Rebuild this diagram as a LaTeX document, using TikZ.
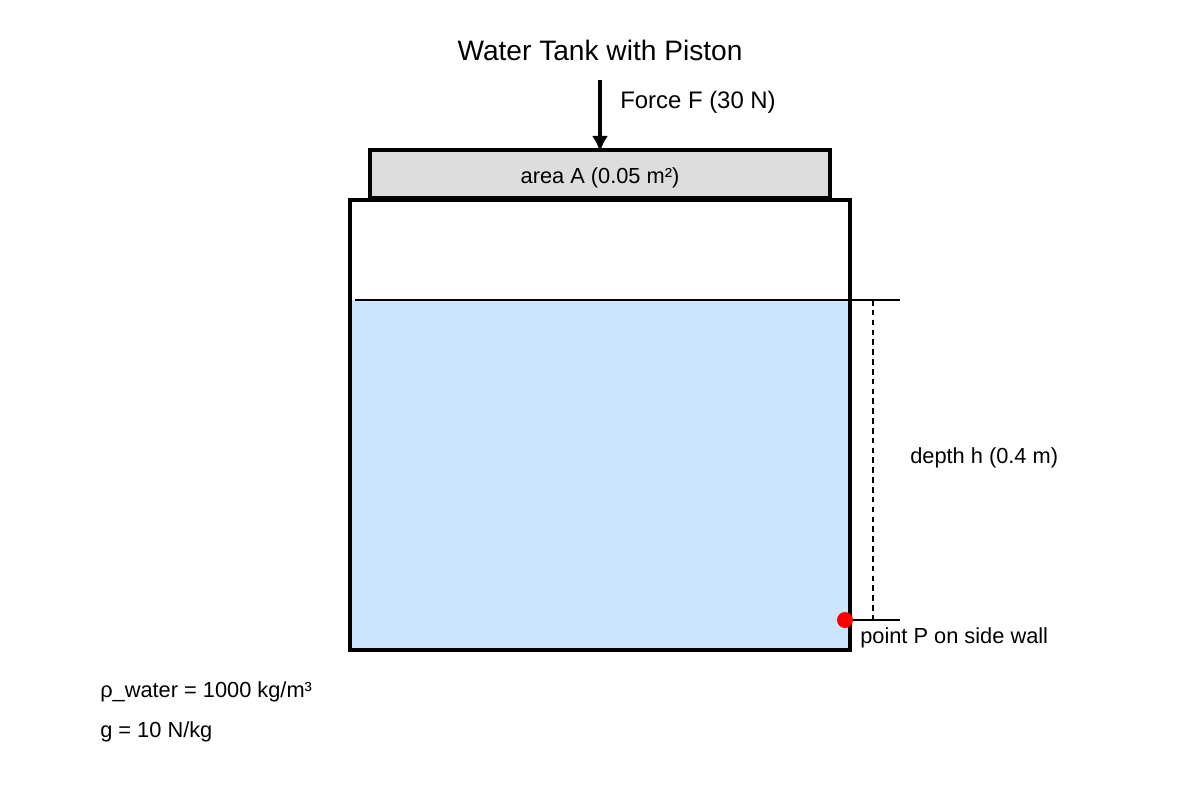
\documentclass[tikz,border=0pt]{standalone}
\usepackage{fontspec}
\setmainfont{Liberation Sans}
\usetikzlibrary{arrows.meta}
\definecolor{pistongray}{HTML}{DDDDDD}
\definecolor{waterblue}{HTML}{CCE5FF}
\tikzset{
  wall/.style={line width=1.1mm},
  label/.style={font=\fontsize{15.5}{18}\selectfont, anchor=west, inner sep=0pt},
}
\begin{document}
\begin{tikzpicture}[x=0.025cm,y=-0.025cm]
  \useasboundingbox (0,0) rectangle (1200,800);
  \node[font=\fontsize{20}{22}\selectfont] (title) at (600,50) {Water Tank with Piston};
  % piston and force
  \draw[wall, fill=pistongray] (370,150) rectangle (830,198);
  \node[font=\fontsize{15.5}{18}\selectfont] (area) at (600,178) {area A (0.05 m²)};
  \coordinate (ftop) at (600,80);
  \coordinate (fbot) at (600,152);
  \draw[line width=1.1mm, -{Latex[length=4mm,width=4mm]}] (ftop) -- (fbot);
  \node[label, font=\fontsize{17}{20}\selectfont] (force) at (620,102) {Force F (30 N)};
  % tank with water
  \fill[waterblue] (352,300) rectangle (848,648);
  \draw[wall] (350,200) rectangle (850,650);
  \draw[line width=0.5mm] (355,300) -- (900,300);
  \draw[line width=0.5mm] (850,620) -- (900,620);
  \draw[line width=0.4mm, dash pattern=on 4pt off 3pt] (873,300) -- (873,620);
  \fill[red] (845,620) circle (8);
  \node[label] (pointP) at (860,638) {point P on side wall};
  \node[label] (depth) at (910,458) {depth h (0.4 m)};
  % data
  \node[label] (rho) at (100,692) {ρ\_water = 1000 kg/m³};
  \node[label] (grav) at (100,732) {g = 10 N/kg};
\end{tikzpicture}
\end{document}
